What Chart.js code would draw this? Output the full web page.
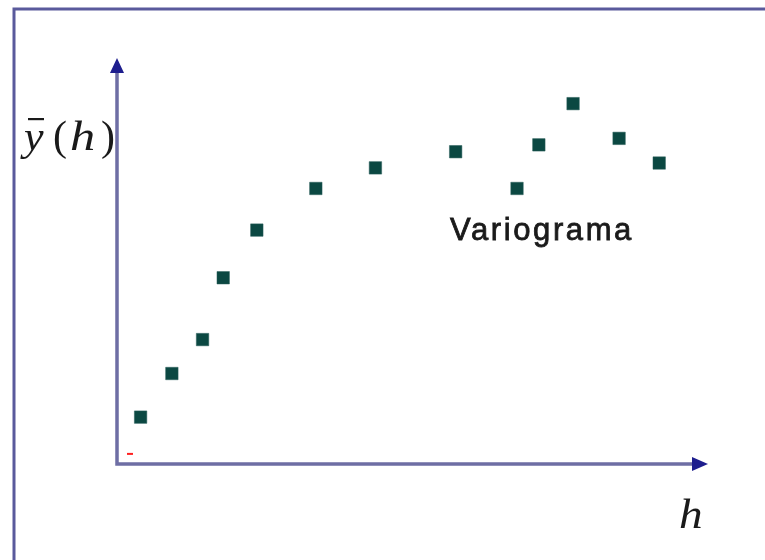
<!DOCTYPE html>
<html>
<head>
<meta charset="utf-8">
<script src="https://cdn.jsdelivr.net/npm/chart.js@4.4.1/dist/chart.umd.min.js"></script>
<style>
  html, body { margin: 0; padding: 0; background: #ffffff; }
  #wrap { width: 765px; height: 560px; position: relative; }
</style>
</head>
<body>
<div id="wrap"><canvas id="c"></canvas></div>
<script>
// Lag distance h (arbitrary units) and semivariance values
const lagH = [0.40, 0.93, 1.45, 1.80, 2.37, 3.37, 4.38, 5.74, 6.78, 7.15, 7.73, 8.51, 9.19];
const gammaH = [1.16, 2.24, 3.08, 4.61, 5.79, 6.82, 7.33, 7.73, 6.82, 7.90, 8.92, 8.06, 7.45];
const seriesLabel = 'Variograma';
const yAxisLabelParts = ['y', '(', 'h', ')'];
const xAxisLabel = 'h';
// small red tick mark near the origin
const markH = [0.22];
const markG = [0.25];

const points = lagH.map((h, i) => ({ x: h, y: gammaH[i] }));
const marks = markH.map((h, i) => ({ x: h, y: markG[i] }));

const decor = {
  id: 'decor',
  beforeDatasetsDraw(chart) {
    const ctx = chart.ctx;
    const xs = chart.scales.x, ys = chart.scales.y;
    const x0 = xs.getPixelForValue(xs.min), y0 = ys.getPixelForValue(ys.min);
    const x1 = xs.getPixelForValue(xs.max), y1 = ys.getPixelForValue(ys.max);
    ctx.save();
    // outer frame (left and top edges)
    ctx.strokeStyle = '#5a5a9c';
    ctx.lineWidth = 3;
    ctx.beginPath();
    ctx.moveTo(14, 560);
    ctx.lineTo(14, 9);
    ctx.lineTo(765, 9);
    ctx.stroke();
    // axes
    ctx.strokeStyle = '#6e6ea4';
    ctx.lineWidth = 3.5;
    ctx.beginPath();
    ctx.moveTo(x0, y1 + 10);
    ctx.lineTo(x0, y0);
    ctx.lineTo(x1 - 10, y0);
    ctx.stroke();
    // arrowheads
    ctx.fillStyle = '#1e1e8e';
    ctx.beginPath();
    ctx.moveTo(x0, y1 - 2);
    ctx.lineTo(x0 - 7, y1 + 13);
    ctx.lineTo(x0 + 7, y1 + 13);
    ctx.closePath();
    ctx.fill();
    ctx.beginPath();
    ctx.moveTo(x1 + 1, y0);
    ctx.lineTo(x1 - 15, y0 - 7);
    ctx.lineTo(x1 - 15, y0 + 7);
    ctx.closePath();
    ctx.fill();
    // series label
    ctx.textBaseline = 'alphabetic';
    ctx.textAlign = 'left';
    ctx.fillStyle = '#1a1a1a';
    ctx.strokeStyle = '#1a1a1a';
    ctx.lineWidth = 0.8;
    ctx.font = '31px "Liberation Sans", Arial, sans-serif';
    ctx.letterSpacing = '2.6px';
    ctx.fillText(seriesLabel, 450, 240);
    ctx.strokeText(seriesLabel, 450, 240);
    ctx.letterSpacing = '0px';
    // y axis label, math style: italic letters, upright parentheses, bar over y
    const italic = 'italic 42px "Liberation Serif", "DejaVu Serif", serif';
    const upright = '42px "Liberation Serif", "DejaVu Serif", serif';
    const partX = [24, 53, 70, 101];
    const partFont = [italic, upright, italic, upright];
    const partStretch = [1.05, 1, 1.2, 1];
    yAxisLabelParts.forEach((p, i) => {
      ctx.save();
      ctx.font = partFont[i];
      ctx.translate(partX[i], 150);
      ctx.scale(partStretch[i], 1);
      ctx.fillText(p, 0, 0);
      ctx.restore();
    });
    ctx.fillRect(28, 118, 16, 2.2);
    // x axis label
    ctx.save();
    ctx.font = 'italic 43px "Liberation Serif", "DejaVu Serif", serif';
    ctx.translate(679, 528);
    ctx.scale(1.1, 1);
    ctx.fillText(xAxisLabel, 0, 0);
    ctx.restore();
    ctx.restore();
  }
};

new Chart(document.getElementById('c'), {
  type: 'scatter',
  data: {
    datasets: [
      {
        label: seriesLabel,
        data: points,
        pointStyle: 'rect',
        pointRadius: 8.8,
        pointHoverRadius: 8.8,
        backgroundColor: '#0b4842',
        borderColor: '#2a5f5a',
        borderWidth: 0.5
      },
      {
        label: 'mark',
        data: marks,
        pointStyle: 'line',
        pointRadius: 3,
        borderColor: '#ff2020',
        borderWidth: 2
      }
    ]
  },
  options: {
    responsive: true,
    maintainAspectRatio: false,
    animation: false,
    clip: false,
    layout: { padding: { left: 117, right: 58, top: 60, bottom: 96 } },
    plugins: { legend: { display: false }, tooltip: { enabled: false } },
    scales: {
      x: { type: 'linear', min: 0, max: 10, display: false },
      y: { type: 'linear', min: 0, max: 10, display: false }
    }
  },
  plugins: [decor]
});
</script>
</body>
</html>
